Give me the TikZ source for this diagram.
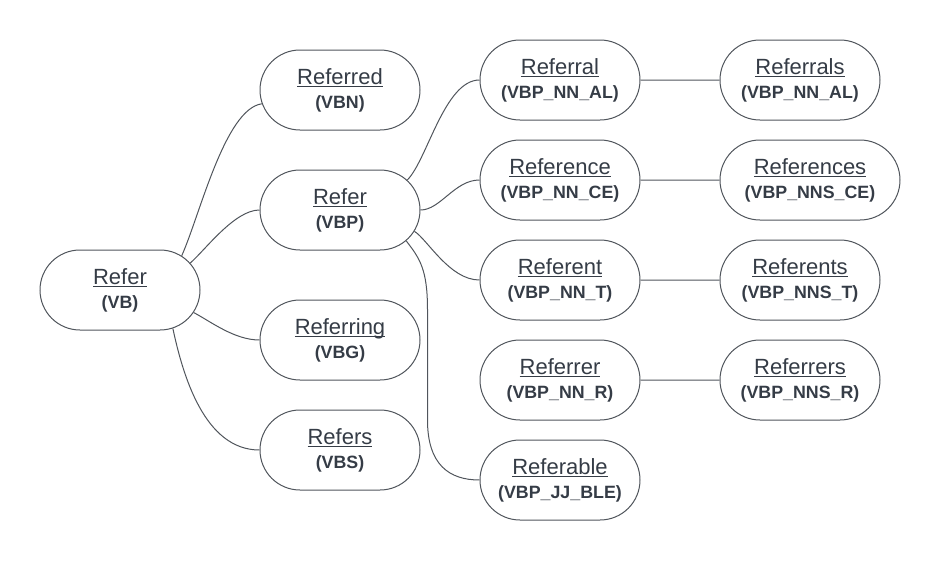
\documentclass[tikz,border=0pt]{standalone}
\usepackage{fontspec}
\setmainfont{Liberation Sans}
\usetikzlibrary{positioning}
\usetikzlibrary{shapes.misc}
\usetikzlibrary{calc}

\definecolor{linegray}{HTML}{50555C}
\definecolor{textgray}{HTML}{353C46}

\newcommand{\ulword}[1]{\setbox0=\hbox{#1}\rlap{\rule[-3.2pt]{\wd0}{1.3pt}}\box0}
\newcommand{\wordlabel}[2]{\ulword{#1}\\{\fontsize{17.8}{24}\selectfont\bfseries (#2)}}

\begin{document}
\begin{tikzpicture}[x = 1pt, y = -1pt, line width = 1pt,
						form node/.style = {rounded rectangle, draw = linegray, line width = 1pt, minimum width = 160pt, minimum height = 80pt, inner sep = 0pt, align = center, text = textgray, font = \fontsize{22}{24}\selectfont},
						link/.style = {draw = linegray, line width = 1pt}]
		\useasboundingbox (0,0) rectangle (940,560);

		\node[form node] (vb) at (120,290) {\wordlabel{Refer}{VB}};
		\node[form node] (vbn) at (340,90) {\wordlabel{Referred}{VBN}};
		\node[form node] (vbp) at (340,210) {\wordlabel{Refer}{VBP}};
		\node[form node] (vbg) at (340,340) {\wordlabel{Referring}{VBG}};
		\node[form node] (vbs) at (340,450) {\wordlabel{Refers}{VBS}};

		\node[form node] (referral) at (560,80) {\wordlabel{Referral}{VBP\_NN\_AL}};
		\node[form node] (reference) [below = 19pt of referral] {\wordlabel{Reference}{VBP\_NN\_CE}};
		\node[form node] (referent) [below = 19pt of reference] {\wordlabel{Referent}{VBP\_NN\_T}};
		\node[form node] (referrer) [below = 19pt of referent] {\wordlabel{Referrer}{VBP\_NN\_R}};
		\node[form node] (referable) [below = 19pt of referrer] {\wordlabel{Referable}{VBP\_JJ\_BLE}};

		\node[form node] (referrals) [right = 79pt of referral] {\wordlabel{Referrals}{VBP\_NN\_AL}};
		\node[form node, minimum width = 180pt] (references) [right = 79pt of reference] {\wordlabel{References}{VBP\_NNS\_CE}};
		\node[form node] (referents) [right = 79pt of referent] {\wordlabel{Referents}{VBP\_NNS\_T}};
		\node[form node] (referrers) [right = 79pt of referrer] {\wordlabel{Referrers}{VBP\_NNS\_R}};

		% verb forms
		\draw[link] (vb.29) .. controls +(18,-40) and +(-37,5) .. (vbn.190);
		\draw[link] (vb.21) .. controls +(15,-13) and +(-25,0) .. (vbp.west);
		\draw[link] (vb.-17) .. controls +(17,9) and +(-25,0) .. (vbg.west);
		\draw[link] (vb.-36) .. controls +(10,47) and +(-55,0) .. (vbs.west);

		% derived words
		\draw[link] (vbp.24) .. controls +(20,-20) and +(-35,0) .. (referral.west);
		\draw[link] (vbp.east) .. controls +(20,0) and +(-25,0) .. (reference.west);
		\draw[link] (vbp.-16) .. controls +(13,8) and +(-30,0) .. (referent.west);
		\draw[link] (vbp.-25) .. controls +(14,18) and +(0,-40) .. ($(referable.west)+(-52,-170)$)
			-- ($(referable.west)+(-52,-60)$) .. controls +(0,45) and +(-30,0) .. (referable.west);

		% plurals
		\draw[link] (referral) -- (referrals);
		\draw[link] (reference) -- (references);
		\draw[link] (referent) -- (referents);
		\draw[link] (referrer) -- (referrers);
	\end{tikzpicture}
\end{document}
